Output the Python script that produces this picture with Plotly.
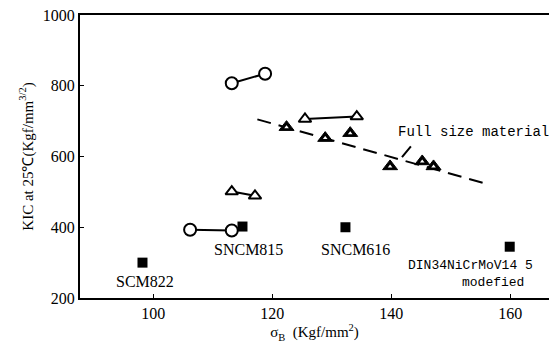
import plotly.graph_objects as go

# circles (two connected pairs)
circ_hi_x = [113.2, 118.8]
circ_hi_y = [807, 834]
circ_lo_x = [106.2, 113.2]
circ_lo_y = [393, 391]

# open triangles connected pairs
tri_lo_x = [113.2, 117.1]
tri_lo_y = [501, 489]
tri_hi_x = [125.5, 134.2]
tri_hi_y = [706, 713]

# full size material (filled triangles)
full_x = [122.4, 128.9, 133.1, 139.8, 145.2, 147.1]
full_y = [683, 652, 666, 572, 586, 572]

# trend line
trend_x = [117.5, 155.5]
trend_y = [705, 525]

# steels (filled squares)
steel_x = [98.2, 115.0, 132.3, 159.9]
steel_y = [300, 402, 400, 345]
steel_names = ["SCM822", "SNCM815", "SNCM616"]
label_x = [98.6, 116.0, 134.0]
label_y = [248, 338, 338]
din_text = "DIN34NiCrMoV14 5"
din_sub = "modefied"

x_ticks = [100, 120, 140, 160]
y_ticks = [200, 400, 600, 800, 1000]

FONT = "Liberation Serif"
MONO = "Liberation Mono"
fig = go.Figure()

fig.add_trace(go.Scatter(x=trend_x, y=trend_y, mode="lines",
                         line=dict(color="black", width=2, dash="14px,8px")))
for xs, ys in [(circ_hi_x, circ_hi_y), (circ_lo_x, circ_lo_y)]:
    fig.add_trace(go.Scatter(x=xs, y=ys, mode="lines+markers",
                             line=dict(color="black", width=2),
                             marker=dict(symbol="circle", size=12, color="white",
                                         line=dict(color="black", width=2))))
for xs, ys in [(tri_lo_x, tri_lo_y), (tri_hi_x, tri_hi_y)]:
    fig.add_trace(go.Scatter(x=xs, y=ys, mode="lines+markers",
                             line=dict(color="black", width=2),
                             marker=dict(symbol="triangle-up", size=11, color="white",
                                         line=dict(color="black", width=2))))
fig.add_trace(go.Scatter(x=full_x, y=full_y, mode="markers",
                         marker=dict(symbol="triangle-up", size=13, color="black",
                                     line=dict(color="black", width=1))))
fig.add_trace(go.Scatter(x=full_x, y=full_y, mode="markers",
                         marker=dict(symbol="triangle-up", size=4, color="white",
                                     line=dict(width=0))))
fig.add_trace(go.Scatter(x=steel_x, y=steel_y, mode="markers",
                         marker=dict(symbol="square", size=10, color="black")))

for name, lx, ly in zip(steel_names, label_x, label_y):
    fig.add_annotation(x=lx, y=ly, text=name, showarrow=False,
                       font=dict(family=FONT, size=16, color="black"))
fig.add_annotation(x=142.5, y=291, text=din_text, showarrow=False, xanchor="left",
                   font=dict(family=MONO, size=13, color="black"))
fig.add_annotation(x=157.1, y=245, text=din_sub, showarrow=False,
                   font=dict(family=MONO, size=13, color="black"))

fig.add_annotation(x=141.8, y=598, ax=143.5, ay=633, axref="x", ayref="y",
                   text="", showarrow=True, arrowhead=0, arrowwidth=2, arrowcolor="black")
fig.add_annotation(x=140.8, y=670, text="Full size material", showarrow=False,
                   xanchor="left", font=dict(family=MONO, size=14, color="black"))

fig.update_layout(
    width=549, height=349, showlegend=False,
    margin=dict(l=80, r=0, t=15, b=51),
    plot_bgcolor="white", paper_bgcolor="white",
    font=dict(family=FONT, color="black", size=16),
    xaxis=dict(range=[87.7, 166.5], tickvals=x_ticks, showgrid=False, zeroline=False,
               showline=True, linecolor="black", linewidth=2, mirror=True,
               ticks="inside", ticklen=4, tickwidth=1, tickcolor="black",
               tickfont=dict(family=FONT, size=16),
               title=dict(text="σ<sub>B</sub>  (Kgf/mm<sup>2</sup>)", standoff=2,
                          font=dict(family=FONT, size=15))),
    yaxis=dict(range=[200, 1000], tickvals=y_ticks, showgrid=False, zeroline=False,
               showline=True, linecolor="black", linewidth=2,
               ticks="inside", ticklen=4, tickwidth=1, tickcolor="black",
               tickfont=dict(family=FONT, size=16),
               title=dict(text="KIC at 25℃(Kgf/mm<sup>3/2</sup>)", standoff=6,
                          font=dict(family=FONT, size=15))),
)

fig.write_html("out.html")
